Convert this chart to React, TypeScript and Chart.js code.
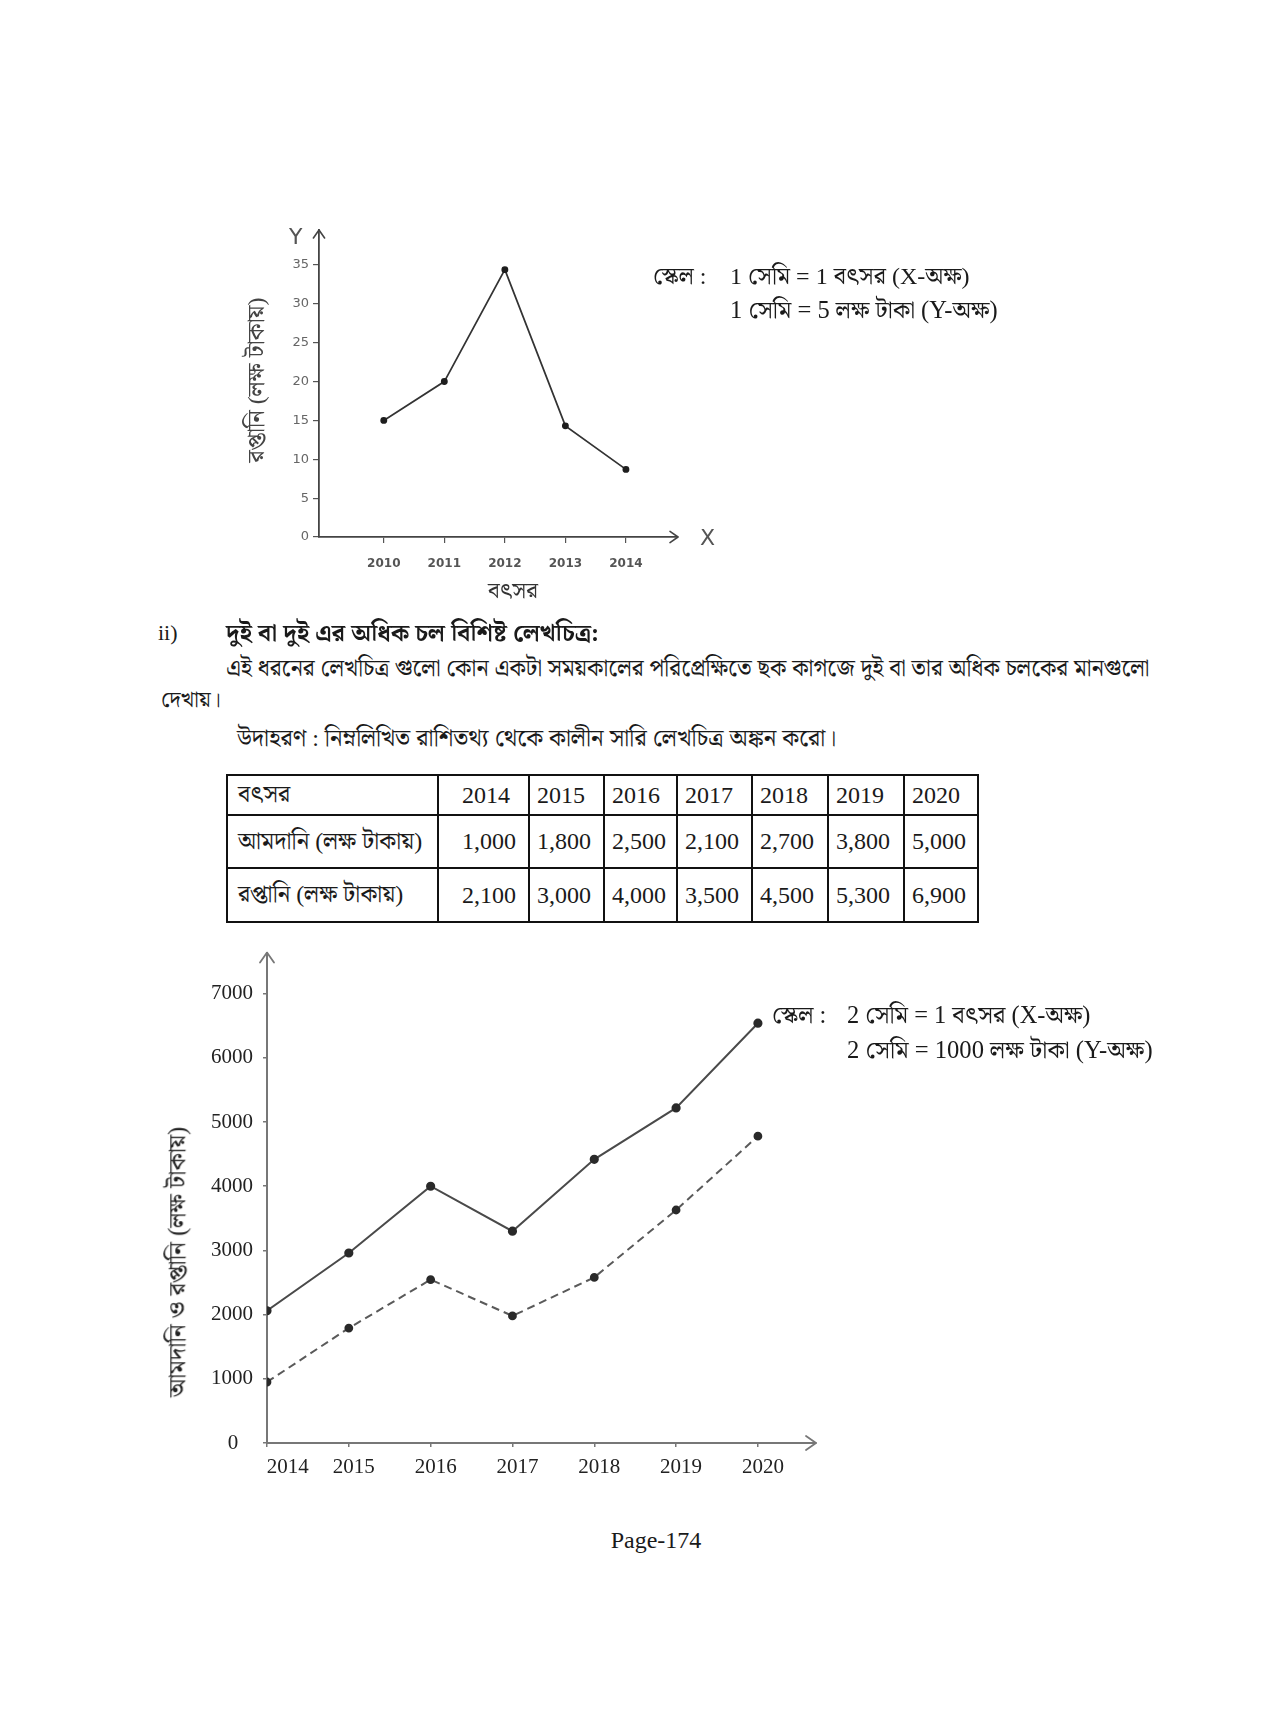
import React, { useEffect, useRef } from 'react';
import { Chart, registerables } from 'chart.js';

Chart.register(...registerables);

const SERIF = '"Liberation Serif", "Times New Roman", "Noto Serif Bengali", "Noto Sans Bengali", serif';
const HAND = '"DejaVu Sans", "Noto Sans", sans-serif';

// ---------- Chart 1 (single variable) ----------
const c1Years = [2010, 2011, 2012, 2013, 2014];
const c1Export = [15, 20, 34.4, 14.3, 8.7];
const c1YTicks = [0, 5, 10, 15, 20, 25, 30, 35];

// ---------- Table ----------
const tableYears = [2014, 2015, 2016, 2017, 2018, 2019, 2020];
const tableImport = [1000, 1800, 2500, 2100, 2700, 3800, 5000];
const tableExport = [2100, 3000, 4000, 3500, 4500, 5300, 6900];

// ---------- Chart 2 (two variables, values as drawn) ----------
const c2Years = [2014, 2015, 2016, 2017, 2018, 2019, 2020];
const c2ExportDrawn = [2060, 2960, 4000, 3300, 4420, 5220, 6540];
const c2ImportDrawn = [950, 1790, 2545, 1980, 2580, 3630, 4780];
const c2YTicks = [0, 1000, 2000, 3000, 4000, 5000, 6000, 7000];

const arrowPlugin = {
  id: 'arrows',
  afterDraw(chart: any, _args: any, opts: any) {
    const { ctx, chartArea } = chart;
    const { left, top, right, bottom } = chartArea;
    const s = opts.size || 8;
    ctx.save();
    ctx.strokeStyle = opts.color || '#555';
    ctx.lineWidth = opts.width || 1.5;
    ctx.lineCap = 'round';
    ctx.lineJoin = 'round';
    ctx.beginPath();
    ctx.moveTo(left - s * 0.7, top + s);
    ctx.lineTo(left, top);
    ctx.lineTo(left + s * 0.7, top + s);
    ctx.moveTo(right - s, bottom - s * 0.7);
    ctx.lineTo(right, bottom);
    ctx.lineTo(right - s, bottom + s * 0.7);
    ctx.stroke();
    ctx.restore();
  },
};

function chart1Config(): any {
  return {
    type: 'line',
    data: {
      datasets: [
        {
          data: c1Years.map((x, i) => ({ x, y: c1Export[i] })),
          borderColor: '#333',
          borderWidth: 1.7,
          pointRadius: 2.6,
          pointBackgroundColor: '#1e1e1e',
          pointBorderColor: '#1e1e1e',
          tension: 0,
        },
      ],
    },
    options: {
      animation: false,
      responsive: false,
      events: [],
      layout: { padding: { left: 0, top: 30, right: 62, bottom: 0 } },
      plugins: {
        legend: { display: false },
        tooltip: { enabled: false },
        arrows: { color: '#444', width: 1.6, size: 8 },
      },
      scales: {
        x: {
          type: 'linear',
          min: 2008.93,
          max: 2014.86,
          afterBuildTicks: (s: any) => {
            s.ticks = c1Years.map((v) => ({ value: v }));
          },
          afterFit: (s: any) => {
            s.height = 83;
          },
          grid: { drawOnChartArea: false, drawTicks: true, tickLength: 6, color: '#555', lineWidth: 1.2 },
          border: { display: true, color: '#444', width: 1.8 },
          ticks: {
            color: '#555',
            font: { family: HAND, size: 12, weight: 'bold' },
            padding: 14,
            maxRotation: 0,
            autoSkip: false,
            callback: (v: any) => String(v),
          },
        },
        y: {
          type: 'linear',
          min: 0,
          max: 39.5,
          afterBuildTicks: (s: any) => {
            s.ticks = c1YTicks.map((v) => ({ value: v }));
          },
          afterFit: (s: any) => {
            s.width = 119;
          },
          grid: { drawOnChartArea: false, drawTicks: true, tickLength: 6, color: '#555', lineWidth: 1.2 },
          border: { display: true, color: '#444', width: 1.8 },
          ticks: {
            color: '#666',
            font: { family: HAND, size: 13 },
            padding: 4,
            autoSkip: false,
            callback: (v: any) => String(v),
          },
        },
      },
    },
    plugins: [arrowPlugin],
  };
}

function chart2Config(): any {
  return {
    type: 'line',
    data: {
      datasets: [
        {
          label: 'রপ্তানি',
          data: c2Years.map((x, i) => ({ x, y: c2ExportDrawn[i] })),
          borderColor: '#4a4a4a',
          borderWidth: 2,
          pointRadius: 3.6,
          pointBackgroundColor: '#2a2a2a',
          pointBorderColor: '#2a2a2a',
          tension: 0,
        },
        {
          label: 'আমদানি',
          data: c2Years.map((x, i) => ({ x, y: c2ImportDrawn[i] })),
          borderColor: '#5a5a5a',
          borderWidth: 2,
          borderDash: [8, 5],
          pointRadius: 3.4,
          pointBackgroundColor: '#2a2a2a',
          pointBorderColor: '#2a2a2a',
          tension: 0,
        },
      ],
    },
    options: {
      animation: false,
      responsive: false,
      events: [],
      layout: { padding: { left: 0, top: 22, right: 34, bottom: 0 } },
      plugins: {
        legend: { display: false },
        tooltip: { enabled: false },
        arrows: { color: '#777', width: 1.8, size: 10 },
      },
      scales: {
        x: {
          type: 'linear',
          min: 2014,
          max: 2020.71,
          afterBuildTicks: (s: any) => {
            s.ticks = c2Years.map((v) => ({ value: v }));
          },
          afterFit: (s: any) => {
            s.height = 67;
          },
          grid: { drawOnChartArea: false, drawTicks: true, tickLength: 4, color: '#777', lineWidth: 1.5 },
          border: { display: true, color: '#777', width: 2 },
          ticks: {
            color: '#222',
            font: { family: SERIF, size: 21 },
            padding: 8,
            labelOffset: 5,
            maxRotation: 0,
            autoSkip: false,
            callback: (v: any) => (v === c2Years[0] ? '\u2002\u2002\u2002' + String(v) : String(v)),
          },
        },
        y: {
          type: 'linear',
          min: 0,
          max: 7640,
          afterBuildTicks: (s: any) => {
            s.ticks = c2YTicks.map((v) => ({ value: v }));
          },
          afterFit: (s: any) => {
            s.width = 117;
          },
          grid: { drawOnChartArea: false, drawTicks: true, tickLength: 4, color: '#777', lineWidth: 1.5 },
          border: { display: true, color: '#777', width: 2 },
          ticks: {
            color: '#222',
            font: { family: SERIF, size: 21 },
            padding: 10,
            autoSkip: false,
            callback: (v: any) => (v === 0 ? '0\u2002\u2009' : String(v)),
          },
        },
      },
    },
    plugins: [arrowPlugin],
  };
}

function ChartBox({ left, top, width, height, makeConfig }: any) {
  const ref = useRef<HTMLCanvasElement>(null);
  useEffect(() => {
    const chart = new Chart(ref.current as HTMLCanvasElement, makeConfig());
    return () => chart.destroy();
  }, []);
  return (
    <canvas
      ref={ref}
      width={width}
      height={height}
      style={{ position: 'absolute', left, top, width, height }}
    />
  );
}

function T({ left, cx, cy, size = 21, bold = false, color = '#1a1a1a', family = SERIF, rotate = false, children }: any) {
  const style: any = {
    position: 'absolute',
    top: cy,
    fontSize: size,
    fontWeight: bold ? 'bold' : 'normal',
    fontFamily: family,
    color,
    whiteSpace: 'nowrap',
    lineHeight: 1.2,
  };
  if (rotate) {
    style.left = cx;
    style.transform = 'translate(-50%, -50%) rotate(-90deg)';
  } else if (cx !== undefined) {
    style.left = cx;
    style.transform = 'translate(-50%, -50%)';
  } else {
    style.left = left;
    style.transform = 'translateY(-50%)';
  }
  return <div style={style}>{children}</div>;
}

const colWidths = [211, 91, 75, 73, 75, 76, 76, 74];
const rowHeights = [40, 53, 54];
const fmt = (n: number) => n.toLocaleString('en-US');

function DataTable() {
  const cell = (i: number, h: number): any => ({
    border: '2px solid #111',
    width: colWidths[i],
    height: h,
    padding: 0,
    paddingLeft: i === 0 ? 10 : i === 1 ? 23 : 7,
    textAlign: 'left',
    verticalAlign: 'middle',
    fontSize: 24,
    whiteSpace: 'nowrap',
    boxSizing: 'border-box',
  });
  const rows: [string, (string | number)[]][] = [
    ['বৎসর', tableYears.map(String)],
    ['আমদানি (লক্ষ টাকায়)', tableImport.map(fmt)],
    ['রপ্তানি (লক্ষ টাকায়)', tableExport.map(fmt)],
  ];
  return (
    <table
      style={{
        position: 'absolute',
        left: 226,
        top: 774,
        borderCollapse: 'collapse',
        tableLayout: 'fixed',
        fontFamily: SERIF,
        color: '#1a1a1a',
      }}
    >
      <tbody>
        {rows.map(([label, vals], r) => (
          <tr key={r}>
            <td style={cell(0, rowHeights[r])}>{label}</td>
            {vals.map((v, i) => (
              <td key={i} style={cell(i + 1, rowHeights[r])}>
                {v}
              </td>
            ))}
          </tr>
        ))}
      </tbody>
    </table>
  );
}

export default function App() {
  return (
    <div
      style={{
        position: 'absolute',
        left: 0,
        top: 0,
        width: 1275,
        height: 1710,
        background: '#fff',
        overflow: 'hidden',
        fontFamily: SERIF,
      }}
    >
      {/* Chart 1 */}
      <ChartBox left={200} top={200} width={540} height={420} makeConfig={chart1Config} />
      <T left={289} cy={237} size={22} family={HAND} color="#555">Y</T>
      <T left={700} cy={538} size={22} family={HAND} color="#555">X</T>
      <T cx={256} cy={380} size={24} rotate color="#444">রপ্তানি (লক্ষ টাকায়)</T>
      <T cx={513} cy={591} size={23} color="#333">বৎসর</T>
      <T left={653} cy={276} size={24}>স্কেল :</T>
      <T left={730} cy={276} size={24}>1 সেমি = 1 বৎসর (X-অক্ষ)</T>
      <T left={730} cy={310} size={24.5}>1 সেমি = 5 লক্ষ টাকা (Y-অক্ষ)</T>

      {/* Section text */}
      <T left={158} cy={633} size={22}>ii)</T>
      <T left={226} cy={633} size={24.5} bold>দুই বা দুই এর অধিক চল বিশিষ্ট লেখচিত্র:</T>
      <T left={226} cy={669} size={23.3}>
        এই ধরনের লেখচিত্র গুলো কোন একটা সময়কালের পরিপ্রেক্ষিতে ছক কাগজে দুই বা তার অধিক চলকের মানগুলো
      </T>
      <T left={161} cy={700} size={22}>দেখায়।</T>
      <T left={237} cy={738} size={24}>উদাহরণ : নিম্নলিখিত রাশিতথ্য থেকে কালীন সারি লেখচিত্র অঙ্কন করো।</T>

      <DataTable />

      {/* Chart 2 */}
      <ChartBox left={150} top={930} width={700} height={580} makeConfig={chart2Config} />
      <T cx={177} cy={1262} size={24.5} rotate color="#222">আমদানি ও রপ্তানি (লক্ষ টাকায়)</T>
      <T left={772} cy={1015} size={24.4}>স্কেল :</T>
      <T left={847} cy={1015} size={24.4}>2 সেমি = 1 বৎসর (X-অক্ষ)</T>
      <T left={847} cy={1050} size={24.6}>2 সেমি = 1000 লক্ষ টাকা (Y-অক্ষ)</T>

      <T cx={656} cy={1540} size={24}>Page-174</T>
    </div>
  );
}
